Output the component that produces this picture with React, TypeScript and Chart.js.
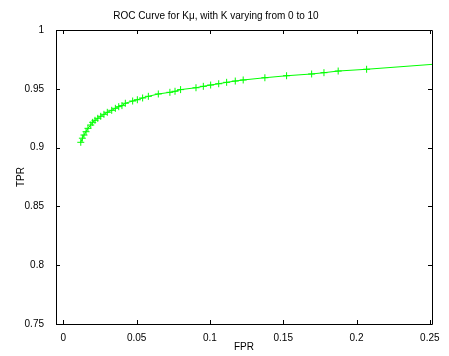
import React, { useEffect, useRef } from "react";
import { Chart, registerables } from "chart.js";

Chart.register(...registerables);

const fpr = [
  0.0119, 0.013, 0.0141, 0.0155, 0.0168, 0.0187, 0.02, 0.0216, 0.0235, 0.0255,
  0.0277, 0.03, 0.033, 0.0355, 0.0378, 0.04, 0.0423, 0.0473, 0.0505, 0.0541,
  0.058, 0.0648, 0.0727, 0.0762, 0.08, 0.0905, 0.0955, 0.1005, 0.106, 0.1114,
  0.1173, 0.1227, 0.1375, 0.1523, 0.1694, 0.1778, 0.1875, 0.2069, 0.27,
];
const tpr = [
  0.9045, 0.908, 0.9107, 0.9135, 0.9164, 0.9192, 0.9215, 0.9232, 0.9249, 0.9266,
  0.9283, 0.93, 0.9317, 0.9334, 0.9348, 0.9357, 0.9377, 0.9396, 0.9407, 0.9422,
  0.9436, 0.9456, 0.947, 0.9479, 0.9493, 0.9509, 0.9521, 0.9532, 0.9543, 0.9555,
  0.9566, 0.9575, 0.9594, 0.9611, 0.9626, 0.9637, 0.9651, 0.9666, 0.9725,
];
const xTicks = [0, 0.05, 0.1, 0.15, 0.2, 0.25];
const yTicks = [0.75, 0.8, 0.85, 0.9, 0.95, 1];
const xRange = [-0.005, 0.2515];
const yRange = [0.75, 1];

const titleText = "ROC Curve for K\u03bc, with K varying from 0 to 10";

const boxPlugin = {
  id: "matlabBox",
  afterDraw(chart: any) {
    const { ctx, chartArea } = chart;
    const { left, right, top, bottom } = chartArea;
    const xs = chart.scales.x;
    const ys = chart.scales.y;
    const tl = 4;
    ctx.save();
    ctx.strokeStyle = "#000";
    ctx.lineWidth = 1;
    ctx.beginPath();
    ctx.rect(Math.round(left) + 0.5, Math.round(top) + 0.5, Math.round(right - left), Math.round(bottom - top));
    for (const v of xTicks) {
      const px = Math.round(xs.getPixelForValue(v)) + 0.5;
      ctx.moveTo(px, bottom);
      ctx.lineTo(px, bottom - tl);
      ctx.moveTo(px, top);
      ctx.lineTo(px, top + tl);
    }
    for (const v of yTicks) {
      const py = Math.round(ys.getPixelForValue(v)) + 0.5;
      ctx.moveTo(left, py);
      ctx.lineTo(left + tl, py);
      ctx.moveTo(right, py);
      ctx.lineTo(right - tl, py);
    }
    ctx.stroke();
    ctx.restore();
  },
};

export default function App() {
  const ref = useRef<HTMLCanvasElement | null>(null);
  useEffect(() => {
    if (!ref.current) return;
    Chart.defaults.font.family = "'Liberation Sans', Arial, sans-serif";
    Chart.defaults.font.size = 10;
    Chart.defaults.color = "#000";
    const chart = new Chart(ref.current, {
      type: "line",
      data: {
        datasets: [
          {
            data: fpr.map((x, i) => ({ x, y: tpr[i] })),
            borderColor: "#00ff00",
            backgroundColor: "#00ff00",
            borderWidth: 1,
            pointStyle: "cross",
            pointRadius: 3.5,
            pointBorderWidth: 1,
            pointBorderColor: "#00ff00",
            tension: 0,
            fill: false,
          },
        ],
      },
      options: {
        animation: false,
        responsive: false,
        maintainAspectRatio: false,
        events: [],
        layout: { padding: { left: 0, right: 17, top: 0, bottom: 0 } },
        plugins: {
          legend: { display: false },
          tooltip: { enabled: false },
          title: {
            display: true,
            text: titleText,
            color: "#000",
            font: { size: 10, weight: "normal" },
            padding: { top: 10, bottom: 8 },
          },
        },
        scales: {
          x: {
            type: "linear",
            min: xRange[0],
            max: xRange[1],
            grid: { display: false },
            border: { display: false },
            afterBuildTicks: (s: any) => {
              s.ticks = xTicks.map((v) => ({ value: v }));
            },
            afterFit: (s: any) => {
              s.height = 32;
            },
            ticks: {
              padding: 0,
              maxRotation: 0,
              autoSkip: false,
              color: "#000",
              callback: (v: any) => String(+Number(v).toFixed(4)),
            },
            title: {
              display: true,
              text: "FPR",
              color: "#000",
              padding: { top: 0, bottom: 3 },
            },
          },
          y: {
            type: "linear",
            min: yRange[0],
            max: yRange[1],
            grid: { display: false },
            border: { display: false },
            afterBuildTicks: (s: any) => {
              s.ticks = yTicks.map((v) => ({ value: v }));
            },
            afterFit: (s: any) => {
              s.width = 56;
            },
            ticks: {
              padding: 4,
              autoSkip: false,
              color: "#000",
              callback: (v: any) => String(+Number(v).toFixed(4)),
            },
            title: {
              display: true,
              text: "TPR",
              color: "#000",
              padding: { top: 15, bottom: 0 },
            },
          },
        },
      },
      plugins: [boxPlugin],
    } as any);
    return () => chart.destroy();
  }, []);
  return (
    <div style={{ position: "absolute", left: 0, top: 0, width: 449, height: 356, background: "#fff" }}>
      <canvas ref={ref} width={449} height={356} style={{ display: "block", width: 449, height: 356 }} />
    </div>
  );
}
